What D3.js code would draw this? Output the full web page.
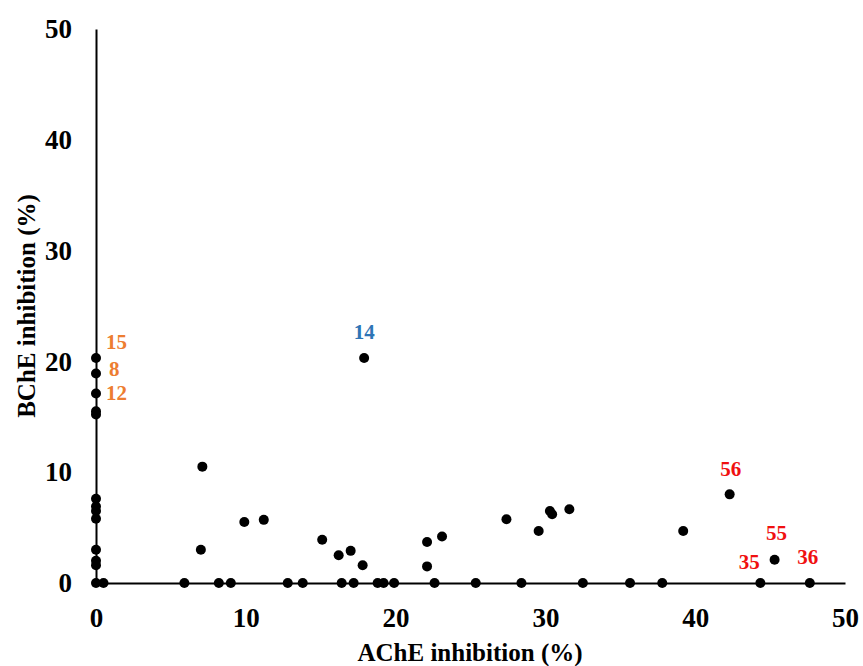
<!DOCTYPE html>
<html>
<head>
<meta charset="utf-8">
<script src="https://cdn.jsdelivr.net/npm/d3@7"></script>
<style>
  body { margin: 0; background: #fff; }
  text { font-family: "Liberation Serif", "Times New Roman", serif; font-weight: bold; }
</style>
</head>
<body>
<div id="chart"></div>
<script>
// AChE inhibition (%) per compound
var ache = [0, 0, 0, 0, 0, 0, 0, 0, 0, 0, 0, 0, 0, 0.5,
  7.1, 7.0, 9.9, 11.2, 15.1, 16.2, 17.0, 17.8, 17.9, 22.1, 22.1, 23.1,
  27.4, 29.55, 30.3, 30.45, 31.6, 39.2, 42.3, 45.3,
  5.9, 8.2, 9.0, 12.8, 13.8, 16.4, 17.2, 18.8, 19.2, 19.9, 22.6, 25.35,
  28.4, 32.5, 35.65, 37.8, 44.35, 47.65];
// BChE inhibition (%) per compound
var bche = [20.3, 18.9, 17.1, 15.5, 15.2, 7.6, 6.9, 6.5, 5.8, 3.0, 2.0, 1.6, 0, 0,
  10.5, 3.0, 5.5, 5.7, 3.9, 2.5, 2.9, 1.6, 20.3, 3.7, 1.5, 4.2,
  5.75, 4.7, 6.5, 6.2, 6.65, 4.7, 8.0, 2.1,
  0, 0, 0, 0, 0, 0, 0, 0, 0, 0, 0, 0,
  0, 0, 0, 0, 0, 0];

// labelled compounds
var labelIds = ["15", "8", "12", "14", "56", "55", "35", "36"];
var labelAche = [0, 0, 0, 17.9, 42.3, 45.3, 44.35, 47.65];
var labelBche = [20.3, 18.9, 17.1, 20.3, 8.0, 2.1, 0, 0];
var labelGroup = ["orange", "orange", "orange", "blue", "red", "red", "red", "red"];

var xTicks = [0, 10, 20, 30, 40, 50];
var yTicks = [0, 10, 20, 30, 40, 50];

var width = 863, height = 666;
var colors = { orange: "#ed7d31", blue: "#2e75b6", red: "#f01010" };
// label offsets from their point, in px
var offsets = {
  "15": [10, -16, "start"], "8": [13, -5, "start"], "12": [10, -1, "start"],
  "14": [0, -26, "middle"], "56": [1, -25, "middle"], "55": [2, -27, "middle"],
  "35": [-11, -21, "middle"], "36": [-2, -26, "middle"]
};

var svg = d3.select("#chart").append("svg")
  .attr("width", width)
  .attr("height", height);

var x = d3.scaleLinear().domain([0, 50]).range([96, 845]);
var y = d3.scaleLinear().domain([0, 50]).range([583, 29]);

var xAxis = svg.append("g")
  .attr("transform", "translate(0," + y(0) + ")")
  .call(d3.axisBottom(x).tickValues(xTicks).tickSize(0).tickPadding(25));

var yAxis = svg.append("g")
  .attr("transform", "translate(" + x(0) + ",0)")
  .call(d3.axisLeft(y).tickValues(yTicks).tickSize(0).tickPadding(24));

svg.selectAll(".domain").attr("stroke", "#000").attr("stroke-width", 2);
svg.selectAll(".tick text")
  .attr("fill", "#000")
  .style("font-family", "'Liberation Serif', serif")
  .style("font-weight", "bold")
  .style("font-size", "27px");

svg.append("text")
  .attr("x", 470)
  .attr("y", 661)
  .attr("text-anchor", "middle")
  .style("font-size", "25px")
  .text("AChE inhibition (%)");

svg.append("text")
  .attr("transform", "translate(35,306) rotate(-90)")
  .attr("text-anchor", "middle")
  .style("font-size", "25px")
  .text("BChE inhibition (%)");

var points = ache.map(function (d, i) { return { a: d, b: bche[i] }; });

svg.selectAll("circle.pt")
  .data(points)
  .enter()
  .append("circle")
  .attr("class", "pt")
  .attr("cx", function (d) { return x(d.a); })
  .attr("cy", function (d) { return y(d.b); })
  .attr("r", 5)
  .attr("fill", "#000");

var labels = labelIds.map(function (id, i) {
  return { id: id, a: labelAche[i], b: labelBche[i], g: labelGroup[i] };
});

svg.selectAll("text.lbl")
  .data(labels)
  .enter()
  .append("text")
  .attr("class", "lbl")
  .attr("x", function (d) { return x(d.a) + offsets[d.id][0]; })
  .attr("y", function (d) { return y(d.b) + offsets[d.id][1]; })
  .attr("text-anchor", function (d) { return offsets[d.id][2]; })
  .attr("dominant-baseline", "central")
  .attr("fill", function (d) { return colors[d.g]; })
  .style("font-size", "21px")
  .text(function (d) { return d.id; });
</script>
</body>
</html>
